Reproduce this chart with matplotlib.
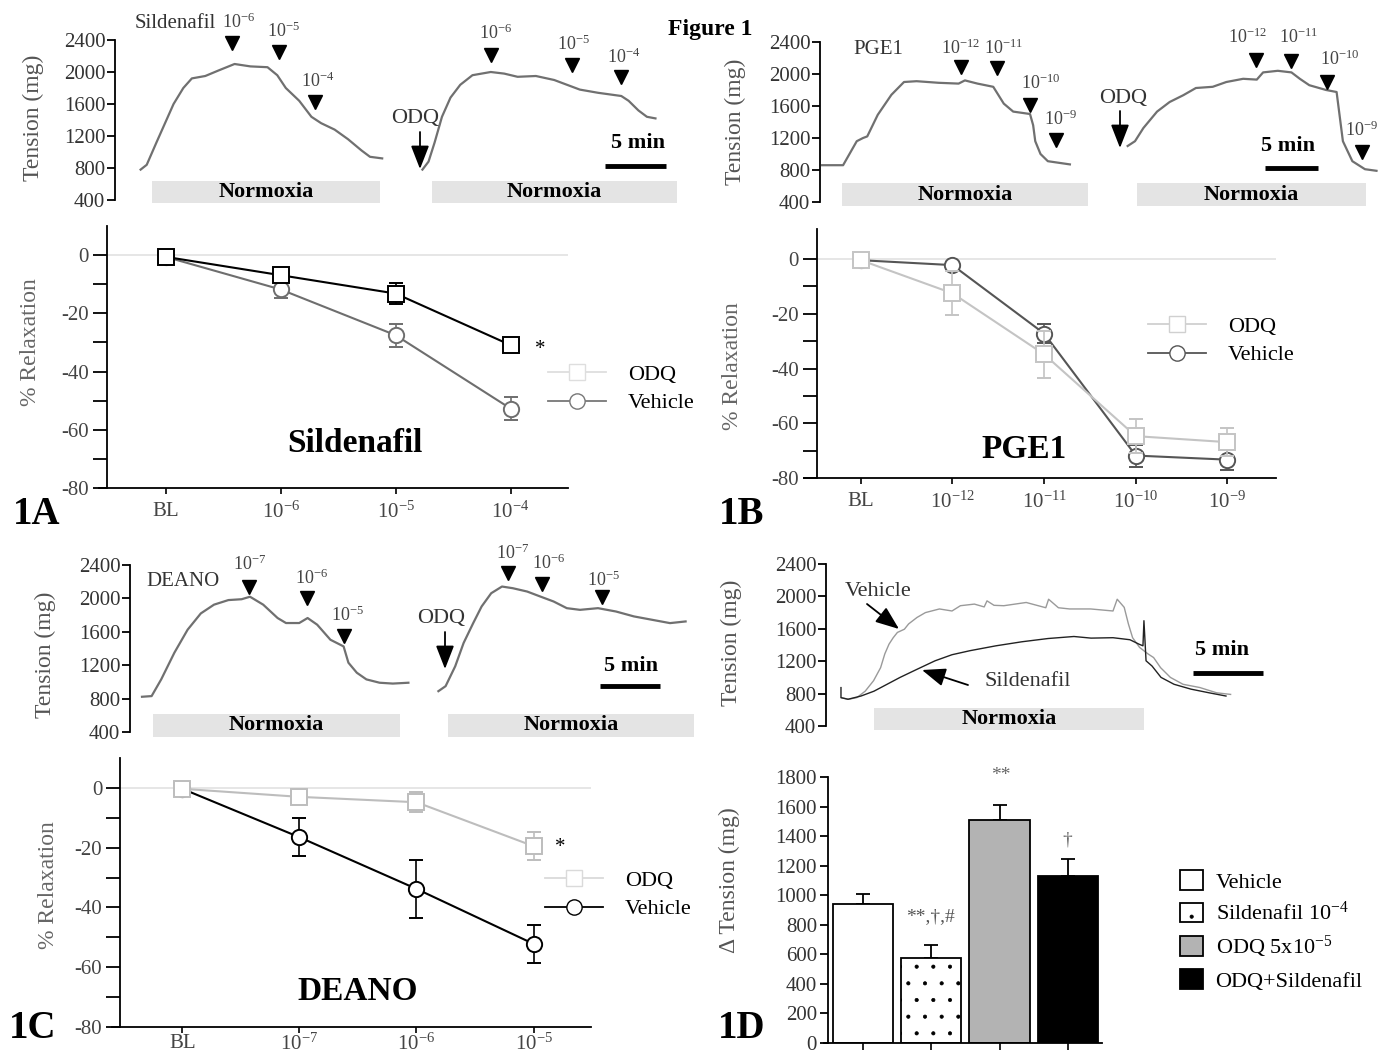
import matplotlib

matplotlib.use("Agg")
import matplotlib.pyplot as plt
from matplotlib.lines import Line2D
from matplotlib.patches import FancyArrowPatch, Patch, Rectangle
from matplotlib.transforms import Affine2D

W, H = 1380, 1055

# ---- isometric tension traces: time [min], tension [mg] ----
sil_veh_t = [2.1, 2.6, 3.4, 4.1, 4.8, 5.6, 6.3, 7.4, 8.5, 9.8, 11.1, 12.5, 13.3, 14.0, 15.1, 16.1,
             16.9, 18.0, 19.1, 20.2, 20.9, 21.9]
sil_veh_mg = [780, 840, 1120, 1360, 1600, 1800, 1920, 1950, 2020, 2100, 2070, 2060, 1960, 1800, 1640,
              1440, 1360, 1280, 1160, 1020, 940, 920]
sil_odq_t = [25.2, 25.7, 26.2, 26.8, 27.5, 28.3, 29.3, 30.8, 31.9, 33.0, 34.5, 36.0, 37.4, 38.1, 39.6,
             41.5, 42.1, 42.9, 43.6, 44.3]
sil_odq_mg = [780, 880, 1120, 1440, 1680, 1840, 1960, 2000, 1980, 1940, 1950, 1900, 1820, 1780, 1740,
              1700, 1640, 1520, 1440, 1420]

pge_veh_t = [0.2, 2.2, 3.5, 4.1, 4.5, 5.5, 6.8, 8.0, 9.2, 11.3, 13.2, 13.8, 15.0, 16.5, 17.5, 18.4,
             20.0, 20.3, 20.5, 21.0, 21.7, 23.8]
pge_veh_mg = [860, 860, 1160, 1200, 1220, 1490, 1740, 1900, 1910, 1890, 1880, 1920, 1880, 1840, 1630,
              1530, 1500, 1360, 1160, 1000, 910, 870]
pge_odq_t = [29.3, 30.0, 30.8, 32.1, 33.3, 34.6, 35.8, 37.4, 38.7, 40.3, 41.6, 42.2, 43.6, 44.9, 45.7,
             46.6, 48.2, 49.2, 49.4, 49.8, 50.7, 51.9, 53.0]
pge_odq_mg = [1100, 1160, 1325, 1530, 1650, 1735, 1825, 1840, 1900, 1940, 1930, 2020, 2040, 2020, 1940,
              1860, 1800, 1775, 1570, 1160, 910, 810, 790]

dea_veh_t = [1.0, 1.8, 2.6, 3.7, 4.8, 5.9, 7.0, 8.2, 9.3, 10.0, 11.1, 12.3, 13.0, 14.1, 14.8, 15.6,
             16.7, 17.8, 18.2, 18.9, 19.7, 20.8, 21.9, 23.2]
dea_veh_mg = [822, 830, 1030, 1350, 1625, 1820, 1925, 1980, 1990, 2020, 1925, 1765, 1705, 1705, 1765,
              1685, 1505, 1425, 1230, 1110, 1030, 990, 980, 990]
dea_odq_t = [25.7, 26.3, 27.1, 27.8, 28.6, 29.3, 30.1, 31.0, 31.9, 33.1, 34.2, 35.3, 36.4, 37.5, 39.0,
             40.5, 42.0, 43.5, 45.0, 46.3]
dea_odq_mg = [889, 949, 1187, 1466, 1704, 1903, 2062, 2142, 2122, 2082, 2022, 1963, 1883, 1863, 1883,
              1843, 1784, 1744, 1704, 1724]

hyp_veh_t = [1.1, 1.6, 2.2, 2.8, 3.4, 3.9, 4.2, 4.5, 4.8, 5.1, 5.6, 5.9, 6.5, 7.1, 8.1, 9.0, 9.6, 10.6,
             11.3, 11.5, 12.0, 12.7, 14.3, 15.7, 15.9, 16.6, 17.4, 18.9, 20.5, 20.8, 21.3, 21.6, 21.9,
             22.4, 23.0, 23.4, 23.9, 24.6, 25.5, 26.7, 27.9, 28.9]
hyp_veh_mg = [750, 730, 750, 830, 960, 1120, 1290, 1410, 1490, 1555, 1595, 1660, 1740, 1800, 1845, 1820,
              1885, 1905, 1870, 1945, 1890, 1885, 1925, 1860, 1965, 1860, 1845, 1845, 1820, 1965, 1865,
              1660, 1490, 1370, 1290, 1245, 1120, 1000, 915, 875, 810, 790]
hyp_sil_t = [1.07, 1.07, 1.57, 2.5, 3.43, 4.36, 5.29, 6.5, 7.79, 9.0, 10.29, 12.14, 14.0, 15.86, 17.71,
             18.93, 20.5, 21.71, 22.36, 22.64, 22.71, 22.86, 23.29, 23.93, 24.86, 26.07, 27.36, 28.57]
hyp_sil_mg = [874, 750, 730, 770, 830, 915, 1000, 1100, 1205, 1280, 1330, 1390, 1440, 1480, 1505, 1485,
              1490, 1465, 1410, 1390, 1700, 1205, 1140, 1000, 915, 855, 810, 770]

tension_ticks = [400, 800, 1200, 1600, 2000, 2400]

# ---- % relaxation dose responses ----
relax_ticks = [0, -20, -40, -60, -80]
relax_minor = [-10, -30, -50, -70]

sil_doses = ["BL", r"$10^{-6}$", r"$10^{-5}$", r"$10^{-4}$"]
sil_odq = [-0.6, -6.9, -13.2, -30.9]
sil_odq_err = [0, 1.0, 3.5, 1.0]
sil_veh = [-0.6, -11.8, -27.5, -52.7]
sil_veh_err = [0, 2.8, 3.9, 4.0]

pge_doses = ["BL", r"$10^{-12}$", r"$10^{-11}$", r"$10^{-10}$", r"$10^{-9}$"]
pge_odq = [-0.4, -12.5, -34.8, -64.7, -66.9]
pge_odq_err = [0, 8.0, 8.7, 6.3, 5.2]
pge_veh = [-0.4, -2.2, -27.2, -71.8, -73.3]
pge_veh_err = [0, 1.0, 3.6, 4.0, 3.9]

dea_doses = ["BL", r"$10^{-7}$", r"$10^{-6}$", r"$10^{-5}$"]
dea_odq = [-0.3, -3.0, -4.8, -19.5]
dea_odq_err = [0, 1.0, 3.4, 4.7]
dea_veh = [-0.3, -16.5, -33.8, -52.2]
dea_veh_err = [0, 6.4, 9.6, 6.3]

# ---- 1D hypoxic tension ----
bar_labels = ["Vehicle", r"Sildenafil $10^{-4}$", r"ODQ 5x$10^{-5}$", "ODQ+Sildenafil"]
bar_vals = [940, 575, 1511, 1130]
bar_err = [65, 90, 100, 117]
bar_ticks = [0, 200, 400, 600, 800, 1000, 1200, 1400, 1600, 1800]

plt.rcParams["font.family"] = ["Liberation Serif", "DejaVu Serif"]
plt.rcParams["mathtext.fontset"] = "custom"
plt.rcParams["mathtext.rm"] = "Liberation Serif"
plt.rcParams["mathtext.it"] = "Liberation Serif:italic"
plt.rcParams["mathtext.bf"] = "Liberation Serif:bold"
plt.rcParams["axes.unicode_minus"] = False
plt.rcParams["axes.linewidth"] = 1.3
plt.rcParams["hatch.linewidth"] = 0.5

fig = plt.figure(figsize=(W / 100, H / 100), dpi=100)
# pixel coords from the top-left corner of the image
PX = Affine2D().scale(1 / W, -1 / H).translate(0, 1) + fig.transFigure


def box(x0, y0, x1, y1):
    return [x0 / W, 1 - y1 / H, (x1 - x0) / W, (y1 - y0) / H]


def txt(x, y, s, size=15, **kw):
    kw.setdefault("ha", "center")
    kw.setdefault("va", "center")
    fig.text(x, y, s, transform=PX, fontsize=size, **kw)


def dose_mark(x, y, label, lx, ly):
    fig.add_artist(Line2D([x], [y], transform=PX, marker="v", ms=10, color="k", ls="none"))
    txt(lx, ly, label, size=13, color="#444")


def pointer(x0, y0, x1, y1):
    fig.add_artist(FancyArrowPatch((x0, y0), (x1, y1), transform=PX,
                                   arrowstyle="-|>,head_length=0.9,head_width=0.35",
                                   mutation_scale=16, color="k", lw=1.3, shrinkA=0, shrinkB=0))


def normoxia(x0, x1, y0, y1):
    fig.add_artist(Rectangle((x0, y0), x1 - x0, y1 - y0, transform=PX,
                             facecolor="#e4e4e4", edgecolor="none"))
    txt((x0 + x1) / 2, (y0 + y1) / 2, "Normoxia", size=16, weight="bold")


def trace_axes(x0, y_top, y_bot, ppm, tmax):
    ax = fig.add_axes(box(x0, y_top, x0 + ppm * tmax, y_bot))
    ax.set_xlim(0, tmax)
    ax.set_ylim(400, 2400)
    ax.patch.set_visible(False)
    for side in ("top", "right", "bottom"):
        ax.spines[side].set_visible(False)
    ax.set_xticks([])
    ax.set_yticks(tension_ticks)
    ax.tick_params(axis="y", length=6, width=1.3, labelsize=15, labelcolor="#333", pad=1)
    return ax


def scale_bar(ax, t0, mg):
    ax.plot([t0, t0 + 5], [mg, mg], color="k", lw=3.5, solid_capstyle="butt", clip_on=False)


def dose_axes(bx, xlim, ytop, spine_x, labels, xpad=6):
    ax = fig.add_axes(box(*bx))
    ax.set_xlim(*xlim)
    ax.set_ylim(-80, ytop)
    ax.patch.set_visible(False)
    ax.spines["top"].set_visible(False)
    ax.spines["right"].set_visible(False)
    ax.spines["left"].set_position(("data", spine_x))
    ax.set_yticks(relax_ticks)
    ax.set_yticks(relax_minor, minor=True)
    ax.tick_params(axis="y", which="both", length=10, width=1.3, labelsize=15,
                   labelcolor="#444", pad=3)
    ax.set_xticks(range(len(labels)))
    ax.set_xticklabels(labels)
    ax.tick_params(axis="x", length=4, width=1.2, labelsize=15, labelcolor="#444", pad=xpad)
    ax.axhline(0, color="#e2e2e2", lw=1.2, zorder=0)
    return ax


def series(ax, y, err, color, marker, z):
    ax.errorbar(range(len(y)), y, yerr=err, color=color, lw=1.5, marker=marker, ms=11,
                mfc="white", mec=color, mew=1.4, capsize=5, elinewidth=1.2, capthick=1.2,
                zorder=z, clip_on=False)


def relax_legend(ax, odq_color, veh_color, x, y):
    handles = [
        Line2D([], [], color=odq_color, marker="s", ms=11, mfc="white", mec=odq_color, lw=1.3),
        Line2D([], [], color=veh_color, marker="o", ms=11, mfc="white", mec=veh_color, lw=1.3),
    ]
    ax.legend(handles, ["ODQ", "Vehicle"], loc="center left", bbox_to_anchor=(x / W, 1 - y / H),
              bbox_transform=fig.transFigure, frameon=False, fontsize=16, handlelength=2.6,
              handletextpad=1.0, labelspacing=0.35, borderpad=0, borderaxespad=0)


txt(710, 30, "Figure 1", size=17, weight="bold")

# ================= 1A =================
ax = trace_axes(115, 40, 200, 12.2, 48)
ax.plot(sil_veh_t, sil_veh_mg, color="#707070", lw=1.6, clip_on=False)
ax.plot(sil_odq_t, sil_odq_mg, color="#707070", lw=1.6, clip_on=False)
scale_bar(ax, 40.2, 825)
txt(33, 118, "Tension (mg)", size=17, rotation=90, color="#555")
txt(175, 23, "Sildenafil", size=15, color="#333")
dose_mark(232, 43, r"$10^{-6}$", 239, 22)
dose_mark(279, 52, r"$10^{-5}$", 284, 31)
dose_mark(315, 102, r"$10^{-4}$", 318, 81)
dose_mark(491, 55, r"$10^{-6}$", 496, 33)
dose_mark(572, 65, r"$10^{-5}$", 574, 44)
dose_mark(621, 77, r"$10^{-4}$", 624, 57)
txt(415, 119, "ODQ", size=16, color="#333")
pointer(420, 132, 420, 169)
txt(638, 143, "5 min", size=16, weight="bold")
normoxia(152, 380, 181, 203)
normoxia(432, 677, 181, 203)

ax = dose_axes((99, 226, 568, 488), (-0.58, 3.5), 10, -0.51, sil_doses)
series(ax, sil_veh, sil_veh_err, "#6e6e6e", "o", 3)
series(ax, sil_odq, sil_odq_err, "black", "s", 4)
relax_legend(ax, "#dedede", "#777777", 548, 389)
txt(540, 350, "*", size=15)
txt(355, 444, "Sildenafil", size=24, weight="bold")
txt(31, 342, "% Relaxation", size=17, rotation=90, color="#666")
txt(37, 515, "1A", size=28, weight="bold")

# ================= 1B =================
ax = trace_axes(820, 42, 202, 10.5, 53.3)
ax.plot(pge_veh_t, pge_veh_mg, color="#707070", lw=1.6, clip_on=False)
ax.plot(pge_odq_t, pge_odq_mg, color="#707070", lw=1.6, clip_on=False)
scale_bar(ax, 42.4, 830)
txt(735, 122, "Tension (mg)", size=17, rotation=90, color="#555")
txt(878, 50, "PGE1", size=15, color="#333")
dose_mark(961, 67, r"$10^{-12}$", 961, 48)
dose_mark(997, 68, r"$10^{-11}$", 1004, 48)
dose_mark(1030, 105, r"$10^{-10}$", 1041, 83)
dose_mark(1056, 140, r"$10^{-9}$", 1061, 119)
dose_mark(1256, 60, r"$10^{-12}$", 1248, 37)
dose_mark(1291, 61, r"$10^{-11}$", 1299, 37)
dose_mark(1327, 82, r"$10^{-10}$", 1340, 59)
dose_mark(1362, 152, r"$10^{-9}$", 1362, 130)
txt(1123, 99, "ODQ", size=16, color="#333")
pointer(1120, 111, 1120, 148)
txt(1288, 146, "5 min", size=16, weight="bold")
normoxia(842, 1088, 183, 206)
normoxia(1137, 1366, 183, 206)

ax = dose_axes((804, 229, 1276, 478), (-0.62, 4.53), 11, -0.48, pge_doses)
series(ax, pge_veh, pge_veh_err, "#555555", "o", 3)
series(ax, pge_odq, pge_odq_err, "#c4c4c4", "s", 4)
relax_legend(ax, "#d0d0d0", "#555555", 1148, 341)
txt(1024, 450, "PGE1", size=24, weight="bold")
txt(733, 366, "% Relaxation", size=17, rotation=90, color="#666")
txt(742, 515, "1B", size=28, weight="bold")

# ================= 1C =================
ax = trace_axes(130, 565, 732, 12, 47.5)
ax.plot(dea_veh_t, dea_veh_mg, color="#707070", lw=1.6, clip_on=False)
ax.plot(dea_odq_t, dea_odq_mg, color="#707070", lw=1.6, clip_on=False)
scale_bar(ax, 39.2, 945)
txt(45, 655, "Tension (mg)", size=17, rotation=90, color="#555")
txt(183, 582, "DEANO", size=15, color="#333")
dose_mark(249, 587, r"$10^{-7}$", 250, 564)
dose_mark(307, 598, r"$10^{-6}$", 312, 578)
dose_mark(344, 636, r"$10^{-5}$", 348, 615)
dose_mark(508, 573, r"$10^{-7}$", 513, 553)
dose_mark(542, 584, r"$10^{-6}$", 549, 563)
dose_mark(602, 597, r"$10^{-5}$", 604, 580)
txt(441, 618, "ODQ", size=16, color="#333")
pointer(445, 632, 445, 669)
txt(631, 666, "5 min", size=16, weight="bold")
normoxia(153, 400, 714, 737)
normoxia(448, 694, 714, 737)

ax = dose_axes((112, 758, 591, 1027), (-0.6, 3.49), 10, -0.53, dea_doses, xpad=1)
series(ax, dea_veh, dea_veh_err, "black", "o", 3)
series(ax, dea_odq, dea_odq_err, "#bdbdbd", "s", 4)
relax_legend(ax, "#dadada", "black", 545, 895)
txt(560, 847, "*", size=15)
txt(358, 991, "DEANO", size=24, weight="bold")
txt(48, 885, "% Relaxation", size=17, rotation=90, color="#666")
txt(33, 1028, "1C", size=28, weight="bold")

# ================= 1D =================
ax = trace_axes(826, 564, 726, 14, 39.6)
ax.plot(hyp_veh_t, hyp_veh_mg, color="#9a9a9a", lw=1.0, clip_on=False)
ax.plot(hyp_sil_t, hyp_sil_mg, color="#222222", lw=1.0, clip_on=False)
scale_bar(ax, 26.2, 1054)
txt(731, 643, "Tension (mg)", size=17, rotation=90, color="#555")
txt(878, 591, "Vehicle", size=16, color="#333")
pointer(867, 604, 899, 629)
txt(1028, 682, "Sildenafil", size=16, color="#333")
pointer(968, 685, 922, 670)
txt(1222, 650, "5 min", size=16, weight="bold")
normoxia(874, 1144, 708, 730)

ax = fig.add_axes(box(824, 777, 1102, 1043))
ax.patch.set_visible(False)
ax.set_xlim(-0.57, 3.5)
ax.set_ylim(0, 1800)
ax.spines["top"].set_visible(False)
ax.spines["right"].set_visible(False)
ax.spines["left"].set_position(("data", -0.51))
bar_face = ["white", "white", "#b3b3b3", "black"]
bar_hatch = [None, ".", None, None]
bars = ax.bar(range(len(bar_vals)), bar_vals, width=0.88, color=bar_face, edgecolor="black",
              lw=1.3, zorder=2)
for b, h in zip(bars, bar_hatch):
    if h:
        b.set_hatch(h)
ax.errorbar(range(len(bar_vals)), bar_vals, yerr=[[0] * len(bar_err), bar_err], fmt="none",
            ecolor="black", elinewidth=1.3, capsize=5, capthick=1.3, zorder=1)
ax.set_yticks(bar_ticks)
ax.set_xticks(range(len(bar_vals)))
ax.set_xticklabels([])
ax.tick_params(axis="y", length=6, width=1.3, labelsize=15, labelcolor="#333", pad=2)
ax.tick_params(axis="x", length=5, width=1.2)
handles = [Patch(facecolor=f, edgecolor="black", hatch=h, lw=1.3) for f, h in zip(bar_face, bar_hatch)]
ax.legend(handles, bar_labels, loc="center left", bbox_to_anchor=(1180 / W, 1 - 931 / H),
          bbox_transform=fig.transFigure, frameon=False, fontsize=16, handlelength=1.05,
          handleheight=1.0, handletextpad=0.55, labelspacing=0.4, borderpad=0, borderaxespad=0)
txt(1001, 775, "**", size=14, color="#666")
txt(930, 917, "**,†,#", size=14, color="#555")
txt(1067, 840, "†", size=14, color="#666")
txt(729, 880, "Δ Tension (mg)", size=17, rotation=90, color="#555")
txt(742, 1028, "1D", size=28, weight="bold")

fig.savefig("out.png", dpi=100)
